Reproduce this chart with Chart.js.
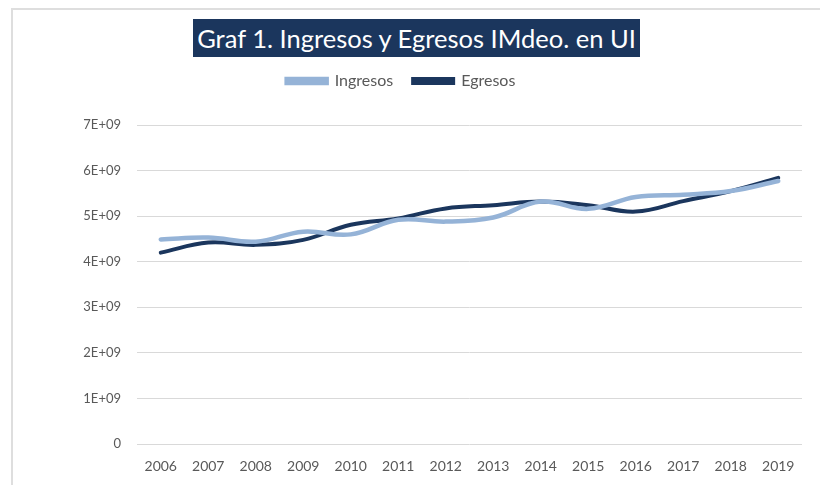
<!DOCTYPE html>
<html>
<head>
    <meta charset="UTF-8">
    <title>Graf 1. Ingresos y Egresos IMdeo. en UI</title>
    <script src="https://cdn.jsdelivr.net/npm/chart.js"></script>
    <style>
        html, body {
            margin: 0;
            padding: 0;
            width: 820px;
            height: 485px;
            overflow: hidden;
            background: #fff;
            font-family: Lato, "Open Sans", sans-serif;
        }
        .frame {
            position: absolute;
            left: 11px;
            top: 8px;
            width: 830px;
            height: 500px;
            border: 2px solid #dedede;
        }
        .titulo {
            position: absolute;
            left: 193px;
            top: 19px;
            width: 447px;
            height: 38px;
            line-height: 38px;
            background: #1b365d;
            color: #fff;
            font-size: 25.5px;
            text-align: center;
            white-space: nowrap;
        }
        .chart-box {
            position: absolute;
            left: 0;
            top: 0;
            width: 820px;
            height: 485px;
        }
    </style>
</head>
<body>
    <div class="frame"></div>
    <div class="chart-box">
        <canvas id="grafico"></canvas>
    </div>
    <div class="titulo">Graf 1. Ingresos y Egresos IMdeo. en UI</div>

    <script>
        // datos (UI)
        const anios = ['2006', '2007', '2008', '2009', '2010', '2011', '2012',
                       '2013', '2014', '2015', '2016', '2017', '2018', '2019'];
        const ingresos = [4.49e9, 4.53e9, 4.44e9, 4.66e9, 4.60e9, 4.92e9, 4.88e9,
                          4.97e9, 5.32e9, 5.16e9, 5.42e9, 5.47e9, 5.55e9, 5.77e9];
        const egresos = [4.20e9, 4.42e9, 4.37e9, 4.48e9, 4.81e9, 4.95e9, 5.17e9,
                         5.24e9, 5.32e9, 5.24e9, 5.10e9, 5.33e9, 5.55e9, 5.84e9];
        const ticksY = ['0', '1E+09', '2E+09', '3E+09', '4E+09', '5E+09', '6E+09', '7E+09'];

        const gris = '#595959';

        // deja espacio libre debajo de la leyenda
        const espacioLeyenda = {
            id: 'espacioLeyenda',
            afterInit(chart) {
                const leg = chart.legend;
                const fitOrig = leg.fit;
                leg.fit = function() {
                    fitOrig.call(this);
                    this.height += 26;
                };
            }
        };

        new Chart(document.getElementById('grafico'), {
            type: 'line',
            data: {
                labels: anios,
                datasets: [
                    {
                        label: 'Ingresos',
                        data: ingresos,
                        borderColor: '#95b3d7',
                        backgroundColor: '#95b3d7',
                        borderWidth: 4.5,
                        tension: 0.4,
                        pointRadius: 0,
                        borderCapStyle: 'round'
                    },
                    {
                        label: 'Egresos',
                        data: egresos,
                        borderColor: '#1b365d',
                        backgroundColor: '#1b365d',
                        borderWidth: 4,
                        tension: 0.4,
                        pointRadius: 0,
                        borderCapStyle: 'round'
                    }
                ]
            },
            plugins: [espacioLeyenda],
            options: {
                responsive: true,
                maintainAspectRatio: false,
                animation: false,
                layout: {
                    padding: { top: 53, right: 18, bottom: 0, left: 0 }
                },
                plugins: {
                    tooltip: { enabled: false },
                    legend: {
                        position: 'top',
                        labels: {
                            boxWidth: 40,
                            boxHeight: 4,
                            color: gris,
                            padding: 20,
                            font: { family: 'Lato', size: 16 }
                        }
                    }
                },
                scales: {
                    x: {
                        offset: true,
                        afterFit: function(s) { s.height = 41; },
                        grid: { display: false, drawTicks: false },
                        border: { display: false },
                        ticks: {
                            color: gris,
                            padding: 14,
                            maxRotation: 0,
                            font: { family: 'Lato', size: 14 }
                        }
                    },
                    y: {
                        min: 0,
                        max: 7e9,
                        afterFit: function(s) { s.width = 137; },
                        grid: { color: '#d9d9d9', lineWidth: 1, drawTicks: false },
                        border: { display: false },
                        ticks: {
                            stepSize: 1e9,
                            color: gris,
                            padding: 16,
                            font: { family: 'Lato', size: 13 },
                            callback: function(v) { return ticksY[Math.round(v / 1e9)]; }
                        }
                    }
                }
            }
        });
    </script>
</body>
</html>
